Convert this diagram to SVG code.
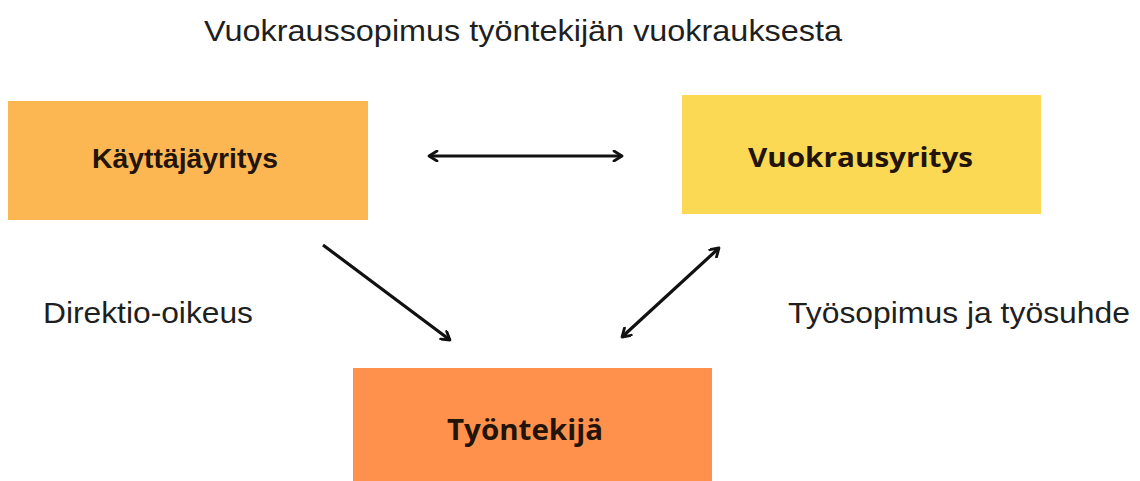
<svg xmlns="http://www.w3.org/2000/svg" width="1140" height="481" viewBox="0 0 1140 481">
<style>
.lbl{font-family:"Liberation Sans",Arial,sans-serif;font-size:30px;fill:#1f1f1f}
.nodeA{font-family:"Liberation Sans",Arial,sans-serif;font-weight:bold;font-size:27px;fill:#221408}
.nodeB{font-family:"Open Sans",sans-serif;font-weight:bold;font-size:26px;fill:#221408}
.conn{stroke:#111;stroke-width:3.2;fill:none}
</style>
<defs>
<marker id="ah" viewBox="0 0 12 12" refX="10" refY="6" markerWidth="12" markerHeight="12" markerUnits="userSpaceOnUse" orient="auto-start-reverse">
<path d="M2,1 L10,6 L2,11" fill="none" stroke="#111" stroke-width="2.8" stroke-linecap="round" stroke-linejoin="round"/>
</marker>
</defs>
<rect width="1140" height="481" fill="#ffffff"/>
<text class="lbl" x="204" y="41" textLength="638" lengthAdjust="spacingAndGlyphs">Vuokraussopimus työntekijän vuokrauksesta</text>
<g id="kayttajayritys">
<rect x="8" y="101" width="360" height="119" fill="#FDB752"/>
<text class="nodeA" x="92" y="168" textLength="186" lengthAdjust="spacingAndGlyphs">Käyttäjäyritys</text>
</g>
<g id="vuokrausyritys">
<rect x="682" y="95" width="359" height="119" fill="#FCD955"/>
<text class="nodeB" x="748" y="167" textLength="225" lengthAdjust="spacingAndGlyphs">Vuokrausyritys</text>
</g>
<g id="tyontekija">
<rect x="353" y="368" width="359" height="113" fill="#FF914D"/>
<text class="nodeB" x="447" y="440" textLength="156" lengthAdjust="spacingAndGlyphs" style="font-size:28px">Työntekijä</text>
</g>
<g id="labels">
<text class="lbl" x="43" y="323" textLength="210" lengthAdjust="spacingAndGlyphs">Direktio-oikeus</text>
<text class="lbl" x="788" y="323" textLength="342" lengthAdjust="spacingAndGlyphs">Työsopimus ja työsuhde</text>
</g>
<g id="connectors">
<line class="conn" x1="429" y1="156" x2="622" y2="156" marker-start="url(#ah)" marker-end="url(#ah)"/>
<line class="conn" x1="323" y1="245" x2="450" y2="340" marker-end="url(#ah)"/>
<line class="conn" x1="622" y1="337" x2="719" y2="248" marker-start="url(#ah)" marker-end="url(#ah)"/>
</g>
</svg>
